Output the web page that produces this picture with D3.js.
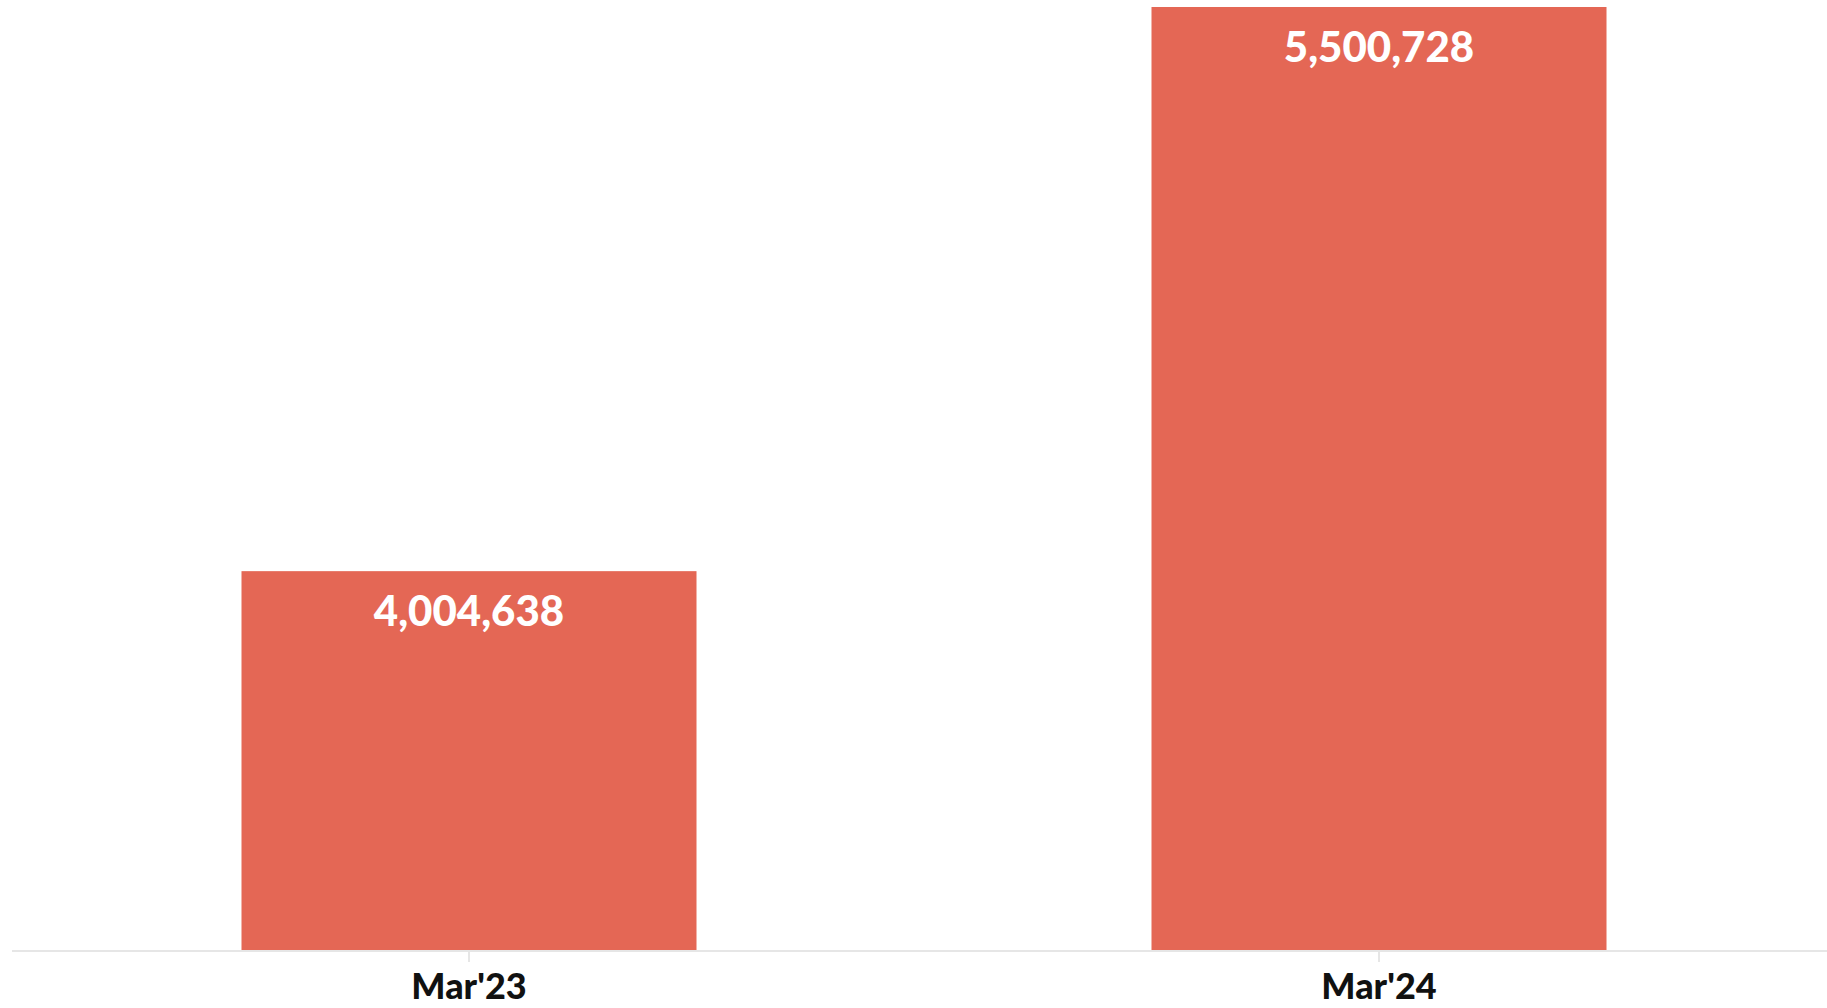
<!DOCTYPE html>
<html>
<head>
<meta charset="utf-8">
<script src="https://cdn.jsdelivr.net/npm/d3@7"></script>
<style>
  body { margin: 0; background: #fff; }
  svg { display: block; }
</style>
</head>
<body>
<div id="chart"></div>
<script>
const categories = ["Mar'23", "Mar'24"]
const values = [4004638, 5500728]
const yMin = 3000000

const W = 1827
const H = 1008
const BASE = 950

const svg = d3.select("#chart")
  .append("svg")
    .attr("width", W)
    .attr("height", H)

const x = d3.scaleBand()
  .domain(categories)
  .range([14, 1834])
  .paddingInner(0.5)
  .paddingOuter(0.25)

const y = d3.scaleLinear()
  .domain([yMin, d3.max(values)])
  .range([BASE, 7])

const data = categories.map((c, i) => ({ cat: c, val: values[i] }))

// bars
svg.selectAll("rect.bar")
  .data(data)
  .enter().append("rect")
    .attr("class", "bar")
    .attr("x", d => x(d.cat))
    .attr("y", d => y(d.val))
    .attr("width", x.bandwidth())
    .attr("height", d => BASE - y(d.val))
    .attr("fill", "#e46755")

// value labels
svg.selectAll("text.val")
  .data(data)
  .enter().append("text")
    .attr("class", "val")
    .attr("x", d => x(d.cat) + x.bandwidth() / 2)
    .attr("y", d => y(d.val) + 55)
    .attr("text-anchor", "middle")
    .attr("fill", "#fff")
    .attr("font-family", "Lato, 'Open Sans', sans-serif")
    .attr("font-weight", 900)
    .attr("font-size", 42)
    .text(d => d3.format(",")(d.val))

// x axis
const xAxis = svg.append("g")
  .attr("transform", `translate(0, ${BASE})`)
  .call(d3.axisBottom(x).tickSize(12).tickSizeOuter(0))

xAxis.select(".domain").remove()
xAxis.selectAll(".tick line").attr("stroke", "#e6e6e6").attr("stroke-width", 2)
xAxis.selectAll(".tick text")
  .attr("dy", 0)
  .attr("y", 49)
  .attr("fill", "#111")
  .attr("font-family", "Lato, 'Open Sans', sans-serif")
  .attr("font-weight", 900)
  .attr("font-size", 36)

svg.append("line")
  .attr("x1", 12)
  .attr("x2", W)
  .attr("y1", BASE + 1)
  .attr("y2", BASE + 1)
  .attr("stroke", "#e6e6e6")
  .attr("stroke-width", 2)
</script>
</body>
</html>
